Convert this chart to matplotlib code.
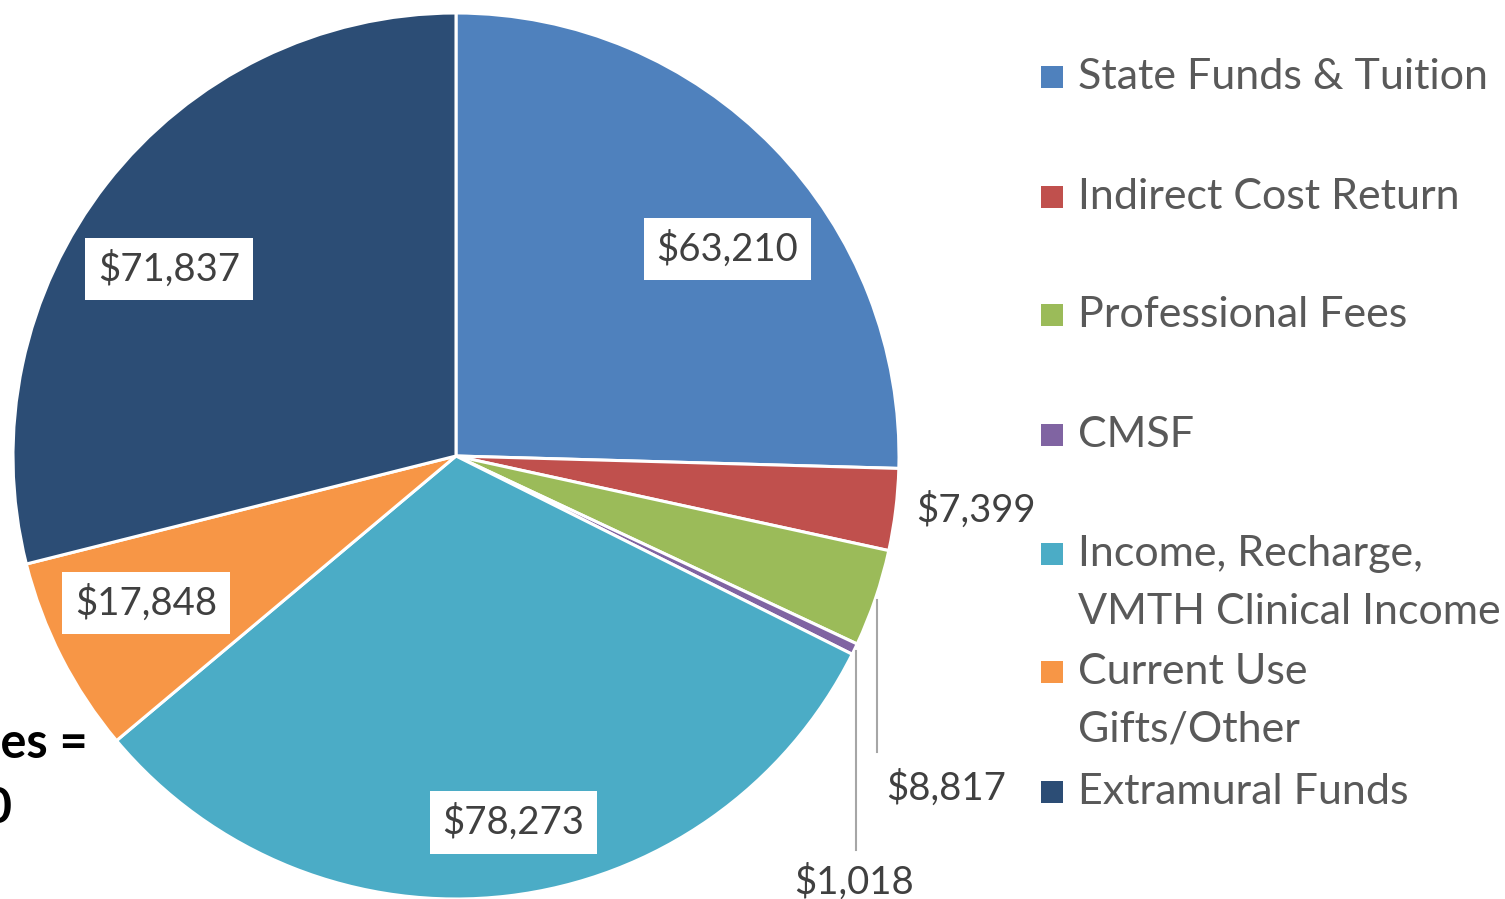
import matplotlib.pyplot as plt
from matplotlib.patches import Rectangle

# revenue sources (thousands of dollars)
categories = [
    "State Funds & Tuition",
    "Indirect Cost Return",
    "Professional Fees",
    "CMSF",
    "Income, Recharge,\nVMTH Clinical Income",
    "Current Use\nGifts/Other",
    "Extramural Funds",
]
amounts = [63210, 7399, 8817, 1018, 78273, 17848, 71837]
colors = ["#4F81BD", "#C0504D", "#9BBB59", "#8064A2", "#4BACC6", "#F79646", "#2C4D75"]

plt.rcParams['font.family'] = ['Lato', 'DejaVu Sans']

W, H = 1505, 899
fig = plt.figure(figsize=(W / 100, H / 100), dpi=100)

# pie sits in a square axes, centre (456, 456) px, radius 443 px
R, cx, cy = 443, 456, 456
ax = fig.add_axes([(cx - R) / W, (H - cy - R) / H, 2 * R / W, 2 * R / H])
ax.pie(amounts, colors=colors, startangle=90, counterclock=False, radius=1,
       wedgeprops=dict(edgecolor='white', linewidth=2.2))
ax.set_xlim(-1, 1)
ax.set_ylim(-1, 1)
ax.set_aspect('equal')
ax.axis('off')

# where each value label goes (data coords), and whether it gets a white box
label_pos = [(0.612, 0.467), (1.174, -0.122), (1.106, -0.750), (0.898, -0.962),
             (0.129, -0.827), (-0.700, -0.332), (-0.648, 0.422)]
boxed = [True, False, False, False, True, True, True]

for v, (x, y), b in zip(amounts, label_pos, boxed):
    bbox = dict(boxstyle='square,pad=0.33', fc='white', ec='none') if b else None
    ax.text(x, y, f"${v:,}", ha='center', va='center', fontsize=27.5,
            color='#404040', bbox=bbox, clip_on=False)

# leader lines for the two thin slices
ax.plot([0.950, 0.950], [-0.325, -0.668], color='#A6A6A6', lw=1.5, clip_on=False)
ax.plot([0.903, 0.903], [-0.440, -0.889], color='#A6A6A6', lw=1.5, clip_on=False)

# total, hanging off the left edge
fig.text(88 / W, 1 - 744 / H, "Total Sources =", ha='right', va='center',
         fontsize=35, weight='bold', color='black')
fig.text(12 / W, 1 - 807 / H, "$248,400", ha='right', va='center',
         fontsize=35, weight='bold', color='black')

# legend drawn by hand
legend_y = [77, 197, 315, 435, 554, 672, 792]
line_gap = 58
for name, c, y in zip(categories, colors, legend_y):
    fig.add_artist(Rectangle((1041 / W, 1 - (y + 11) / H), 22 / W, 22 / H,
                             transform=fig.transFigure, fc=c, ec='none'))
    for i, line in enumerate(name.split("\n")):
        fig.text(1078 / W, 1 - (y + i * line_gap) / H, line, ha='left', va='center',
                 fontsize=31, color='#595959')

fig.savefig("out.png", dpi=100)
